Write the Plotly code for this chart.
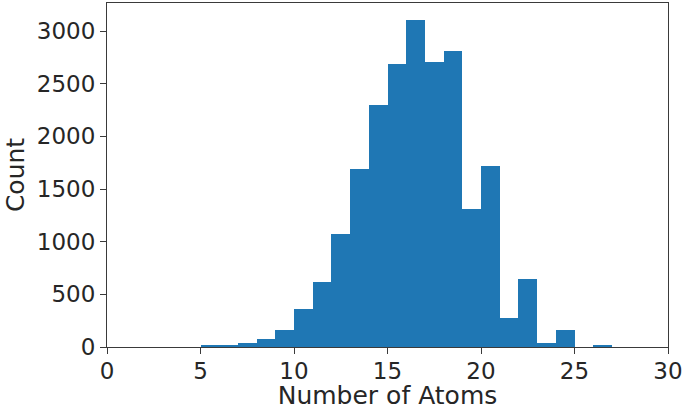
import plotly.graph_objects as go

bin_edges = [5, 6, 7, 8, 9, 10, 11, 12, 13, 14, 15, 16, 17, 18, 19, 20, 21, 22, 23, 24, 25, 26, 27]
counts = [15, 20, 38, 72, 160, 365, 618, 1070, 1690, 2300, 2690, 3110, 2705, 2810,
          1310, 1720, 280, 648, 38, 157, 0, 15]
x_ticks = [0, 5, 10, 15, 20, 25, 30]
y_ticks = [0, 500, 1000, 1500, 2000, 2500, 3000]

centers = [(bin_edges[i] + bin_edges[i + 1]) / 2 for i in range(len(counts))]
widths = [bin_edges[i + 1] - bin_edges[i] for i in range(len(counts))]

FONT = "DejaVu Sans"
fig = go.Figure(go.Bar(x=centers, y=counts, width=widths,
                       marker=dict(color="#1f77b4", line=dict(width=0))))

axis_common = dict(showline=True, mirror=True, linecolor="#3a3a3a", linewidth=1,
                   ticks="outside", ticklen=6, tickcolor="#3a3a3a", tickwidth=1,
                   showgrid=False, zeroline=False, ticklabeloverflow="allow",
                   tickfont=dict(family=FONT, size=23, color="#262626"))

fig.update_layout(
    width=685, height=410,
    margin=dict(l=107, r=14, t=2, b=63),
    plot_bgcolor="white", paper_bgcolor="white",
    bargap=0, showlegend=False,
    xaxis=dict(range=[0, 30], tickvals=x_ticks, ticktext=[str(v) for v in x_ticks],
               ticklabelstandoff=-3,
               title=dict(text="Number of Atoms", font=dict(family=FONT, size=25, color="#262626"), standoff=6),
               **axis_common),
    yaxis=dict(range=[0, 3267], tickvals=y_ticks, ticktext=[str(v) for v in y_ticks],
               title=dict(text="Count", font=dict(family=FONT, size=25, color="#262626"), standoff=5),
               **axis_common),
)
fig.write_html("out.html", config={"displayModeBar": False},
               post_script="document.body.style.margin='0';document.body.style.overflow='hidden';")
